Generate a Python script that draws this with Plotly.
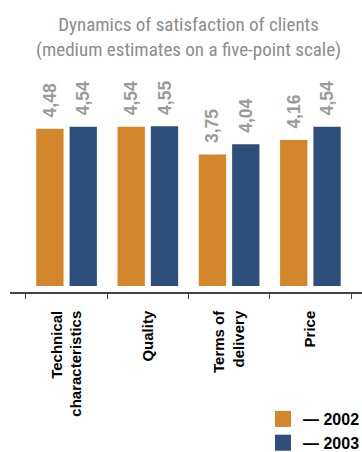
import plotly.graph_objects as go

categories = ["Technical<br>characteristics", "Quality", "Terms of<br>delivery", "Price"]
values_2002 = [4.48, 4.54, 3.75, 4.16]
values_2003 = [4.54, 4.55, 4.04, 4.54]
series_names = ["— 2002", "— 2003"]
title_text = "Dynamics of satisfaction of clients<br>(medium estimates on a five-point scale)"

colors = ["#D4862A", "#2E4E7C"]
narrow = "Liberation Sans Narrow, Arial Narrow, Roboto Condensed, sans-serif"
sans = "Liberation Sans, Arial, sans-serif"

def fmt(v):
    return "\u00a0\u2009" + f"{v:.2f}".replace(".", ",")

fig = go.Figure()
for name, vals, col in zip(series_names, [values_2002, values_2003], colors):
    fig.add_trace(go.Bar(
        x=categories, y=vals, name=name, showlegend=False,
        marker=dict(color=col, line=dict(width=0)),
        text=[fmt(v) for v in vals],
        textposition="outside", textangle=-90,
        textfont=dict(family=sans, size=17.5, color="#9a9a9a", weight="bold"),
        constraintext="none", cliponaxis=False,
    ))
# legend entries (square swatches)
for name, col in zip(series_names, colors):
    fig.add_trace(go.Scatter(
        x=[None], y=[None], mode="markers", name=name,
        marker=dict(symbol="square", size=16, color=col),
    ))

fig.update_layout(
    width=362, height=452,
    margin=dict(l=10, r=0, t=103, b=160, autoexpand=False),
    paper_bgcolor="white", plot_bgcolor="white",
    barmode="group", bargap=0.18, bargroupgap=0.18,
    xaxis=dict(range=[-0.696, 3.635], showline=True, linecolor="#444", linewidth=1.5,
               ticks="outside", tickson="boundaries", ticklen=5, tickcolor="#444",
               tickangle=-90, showgrid=False, zeroline=False, ticklabelstandoff=11,
               tickfont=dict(family=sans, size=15, color="black", weight="bold")),
    yaxis=dict(range=[-0.171, 5.214], visible=False, showgrid=False, zeroline=False),
    legend=dict(x=1 + 3 / 352, xanchor="right", xref="paper",
                y=-(460 - 292) / 189, yanchor="bottom", yref="paper",
                font=dict(family=sans, size=16, color="black", weight="bold"),
                tracegroupgap=0, itemwidth=30, bgcolor="rgba(0,0,0,0)"),
    showlegend=True,
    annotations=[dict(text=title_text, xref="paper", yref="paper",
                      x=(188.5 - 10) / 352, y=1 + 40 / 189, xanchor="center", yanchor="bottom",
                      showarrow=False, align="center",
                      font=dict(family=narrow, size=19, color="#8c8c8c"))],
)

fig.write_html("out.html")
